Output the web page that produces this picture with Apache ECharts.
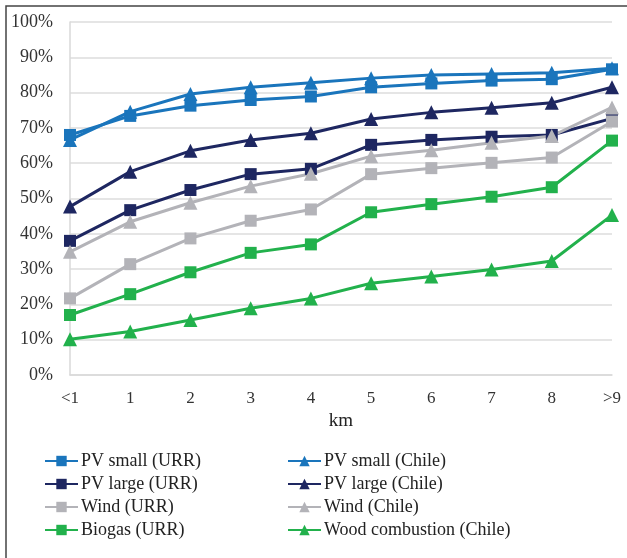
<!DOCTYPE html>
<html><head><meta charset="utf-8">
<script src="https://cdn.jsdelivr.net/npm/echarts@6/dist/echarts.min.js"></script>
<style>html,body{margin:0;padding:0;background:#fff}#c{width:627px;height:558px}</style>
</head><body><div id="c"></div>
<script>
const categories = ['<1','1','2','3','4','5','6','7','8','>9'];
const pvSmallURR   = [68.0,73.4,76.3,77.9,78.9,81.5,82.6,83.4,83.8,86.6];
const pvSmallChile = [66.6,74.6,79.6,81.5,82.8,84.1,85.0,85.3,85.6,86.9];
const pvLargeURR   = [38.0,46.7,52.4,56.9,58.4,65.2,66.6,67.5,68.0,72.7];
const pvLargeChile = [47.7,57.6,63.5,66.6,68.5,72.5,74.4,75.7,77.1,81.5];
const windURR      = [21.7,31.4,38.7,43.7,46.9,56.9,58.6,60.1,61.6,71.8];
const windChile    = [34.9,43.4,48.8,53.5,57.0,62.0,63.7,65.8,67.7,75.8];
const biogasURR    = [17.0,22.9,29.1,34.6,37.0,46.1,48.4,50.5,53.2,66.4];
const woodChile    = [10.1,12.3,15.6,18.9,21.7,26.0,27.9,29.9,32.3,45.3];
const yTicks = [0,10,20,30,40,50,60,70,80,90,100];

const C_BLUE='#1a75bc', C_NAVY='#1e2761', C_GRAY='#b3b3b8', C_GREEN='#22b14c';
const font = 'Liberation Serif, Times New Roman, serif';

function mk(name, data, color, sym){
  return {name, type:'line', data, symbol: sym, symbolSize: sym==='rect'?12:14,
    lineStyle:{color, width:3}, itemStyle:{color}, z: 2};
}
const series = [
  mk('PV small (URR)', pvSmallURR, C_BLUE, 'rect'),
  mk('PV small (Chile)', pvSmallChile, C_BLUE, 'triangle'),
  mk('PV large (URR)', pvLargeURR, C_NAVY, 'rect'),
  mk('PV large (Chile)', pvLargeChile, C_NAVY, 'triangle'),
  mk('Wind (URR)', windURR, C_GRAY, 'rect'),
  mk('Wind (Chile)', windChile, C_GRAY, 'triangle'),
  mk('Biogas (URR)', biogasURR, C_GREEN, 'rect'),
  mk('Wood combustion (Chile)', woodChile, C_GREEN, 'triangle')
];
const legendCommon = {orient:'vertical', top:447, itemWidth:33, itemHeight:13, itemGap:5,
  textStyle:{fontFamily:font, fontSize:18, color:'#222', padding:[0,0,0,-2]}};
const chart = echarts.init(document.getElementById('c'));
chart.setOption({
  animation:false,
  backgroundColor:'#fff',
  graphic:[{type:'rect', shape:{x:6,y:6,width:640,height:570}, style:{fill:'none', stroke:'#444', lineWidth:1.5}, silent:true}],
  grid:{left:70, right:15, top:22, bottom:183},
  legend:[
    Object.assign({left:39, data:['PV small (URR)','PV large (URR)','Wind (URR)','Biogas (URR)']}, legendCommon),
    Object.assign({left:282, data:['PV small (Chile)','PV large (Chile)','Wind (Chile)','Wood combustion (Chile)']}, legendCommon)
  ],
  xAxis:{type:'category', data:categories, boundaryGap:false, name:'km', nameLocation:'middle', nameGap:37,
    nameTextStyle:{fontFamily:font, fontSize:19, color:'#222'},
    axisLine:{lineStyle:{color:'#d9d9d9', width:1.5}}, axisTick:{show:false},
    axisLabel:{fontFamily:font, fontSize:17, color:'#333', margin:15}},
  yAxis:{type:'value', min:0, max:100, interval:10,
    axisLine:{show:true, lineStyle:{color:'#d9d9d9', width:1.5}}, axisTick:{show:false},
    splitLine:{lineStyle:{color:'#dcdcdc', width:1.5}},
    axisLabel:{fontFamily:font, fontSize:18, color:'#333', margin:17,
      formatter:v=> yTicks.includes(v) ? v+'%' : ''}},
  series
});
</script></body></html>
